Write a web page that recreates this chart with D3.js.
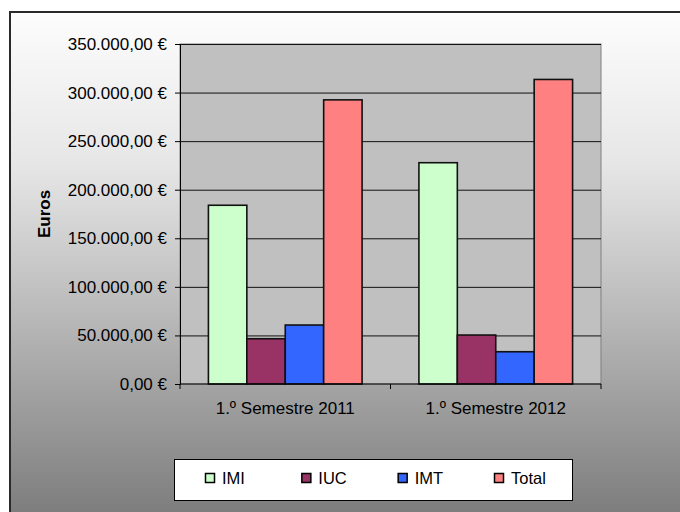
<!DOCTYPE html>
<html>
<head>
<meta charset="utf-8">
<script src="https://cdn.jsdelivr.net/npm/d3@7"></script>
<style>
  body { margin: 0; background: #fff; }
  svg { display: block; font-family: "Liberation Sans", Arial, sans-serif; }
</style>
</head>
<body>
<script>
const categories = ["1.º Semestre 2011", "1.º Semestre 2012"]
const seriesNames = ["IMI", "IUC", "IMT", "Total"]
const imi = [184000, 227800]
const iuc = [46600, 50400]
const imt = [60700, 33200]
const total = [292500, 313500]
const yTicks = [0, 50000, 100000, 150000, 200000, 250000, 300000, 350000]
const colors = ["#ccffcc", "#993366", "#3366ff", "#ff8080"]

const width = 680
const height = 512
const plot = { left: 180, right: 601, top: 44, bottom: 384 }

const values = [imi, iuc, imt, total]

const pt = d3.formatLocale({ decimal: ",", thousands: ".", grouping: [3], currency: ["", " €"] })
const fmt = pt.format("$,.2f")

const svg = d3.select("body").append("svg")
    .attr("width", width)
    .attr("height", height)

// background gradient
const grad = svg.append("defs").append("linearGradient")
    .attr("id", "bg")
    .attr("x1", 0).attr("y1", 0).attr("x2", 0).attr("y2", 1)
grad.append("stop").attr("offset", "0%").attr("stop-color", "#fdfdfd")
grad.append("stop").attr("offset", "30%").attr("stop-color", "#e6e6e6")
grad.append("stop").attr("offset", "100%").attr("stop-color", "#7a7a7a")

svg.append("rect")
    .attr("x", 10).attr("y", 12)
    .attr("width", width).attr("height", height)
    .attr("fill", "url(#bg)")
    .attr("stroke", "#2a2a2a")
    .attr("stroke-width", 2)

const x0 = d3.scaleBand().domain(categories).range([plot.left, plot.right])
const gap = x0.bandwidth() * 0.135
const x1 = d3.scaleBand().domain(seriesNames).range([gap, x0.bandwidth() - gap])
const y = d3.scaleLinear().domain([0, 350000]).range([plot.bottom, plot.top])

// plot area
svg.append("rect")
    .attr("x", plot.left).attr("y", plot.top)
    .attr("width", plot.right - plot.left).attr("height", plot.bottom - plot.top)
    .attr("fill", "#c0c0c0")
    .attr("stroke", "#808080")

// gridlines
svg.append("g")
    .selectAll("line")
    .data(yTicks.filter(d => d > 0))
    .enter()
    .append("line")
    .attr("x1", plot.left).attr("x2", plot.right)
    .attr("y1", d => y(d) + 0.5).attr("y2", d => y(d) + 0.5)
    .attr("stroke", "#111")

// bars
svg.append("g")
    .selectAll("g")
    .data(seriesNames)
    .enter()
    .append("g")
    .attr("fill", (d, i) => colors[i])
    .selectAll("rect")
    .data((s, i) => categories.map((c, j) => ({ cat: c, s: s, v: values[i][j] })))
    .enter()
    .append("rect")
    .attr("x", d => x0(d.cat) + x1(d.s))
    .attr("y", d => y(d.v))
    .attr("width", x1.bandwidth())
    .attr("height", d => y(0) - y(d.v))
    .attr("stroke", "#111")
    .attr("stroke-width", 1.6)

// y axis
const yAxis = svg.append("g")
    .attr("transform", `translate(${plot.left},0)`)
    .call(d3.axisLeft(y).tickValues(yTicks).tickFormat(fmt).tickSize(5).tickPadding(8))
yAxis.select(".domain").attr("stroke", "#000")
yAxis.selectAll(".tick line").attr("stroke", "#000")
yAxis.selectAll("text")
    .attr("font-size", 17)
    .attr("font-family", "Liberation Sans, Arial, sans-serif")
    .attr("fill", "#000")

// x axis
const xAxis = svg.append("g")
    .attr("transform", `translate(0,${plot.bottom})`)
    .call(d3.axisBottom(x0).tickSize(0).tickPadding(18))
xAxis.select(".domain").attr("stroke", "#000").attr("d", `M${plot.left},0H${plot.right}`)
xAxis.selectAll("text")
    .attr("font-size", 17)
    .attr("font-family", "Liberation Sans, Arial, sans-serif")
    .attr("fill", "#000")
svg.append("g")
    .selectAll("line")
    .data([plot.left, x0(categories[1]), plot.right])
    .enter()
    .append("line")
    .attr("x1", d => d).attr("x2", d => d)
    .attr("y1", plot.bottom).attr("y2", plot.bottom + 5)
    .attr("stroke", "#000")

// y title
svg.append("text")
    .attr("transform", "translate(50,214) rotate(-90)")
    .attr("text-anchor", "middle")
    .attr("font-size", 17)
    .attr("font-weight", "bold")
    .text("Euros")

// legend
const legend = svg.append("g")
legend.append("rect")
    .attr("x", 174.5).attr("y", 459.5)
    .attr("width", 398).attr("height", 41)
    .attr("fill", "#fff")
    .attr("stroke", "#000")
const lx = d3.scalePoint().domain(seriesNames).range([205, 494])
const item = legend.selectAll("g.item")
    .data(seriesNames)
    .enter()
    .append("g")
    .attr("class", "item")
    .attr("transform", d => `translate(${lx(d)},0)`)
item.append("rect")
    .attr("x", 0.5).attr("y", 473.5)
    .attr("width", 9).attr("height", 9)
    .attr("fill", (d, i) => colors[i])
    .attr("stroke", "#000")
    .attr("stroke-width", 1.5)
item.append("text")
    .attr("x", 17).attr("y", 484)
    .attr("font-size", 16.5)
    .text(d => d)
</script>
</body>
</html>
